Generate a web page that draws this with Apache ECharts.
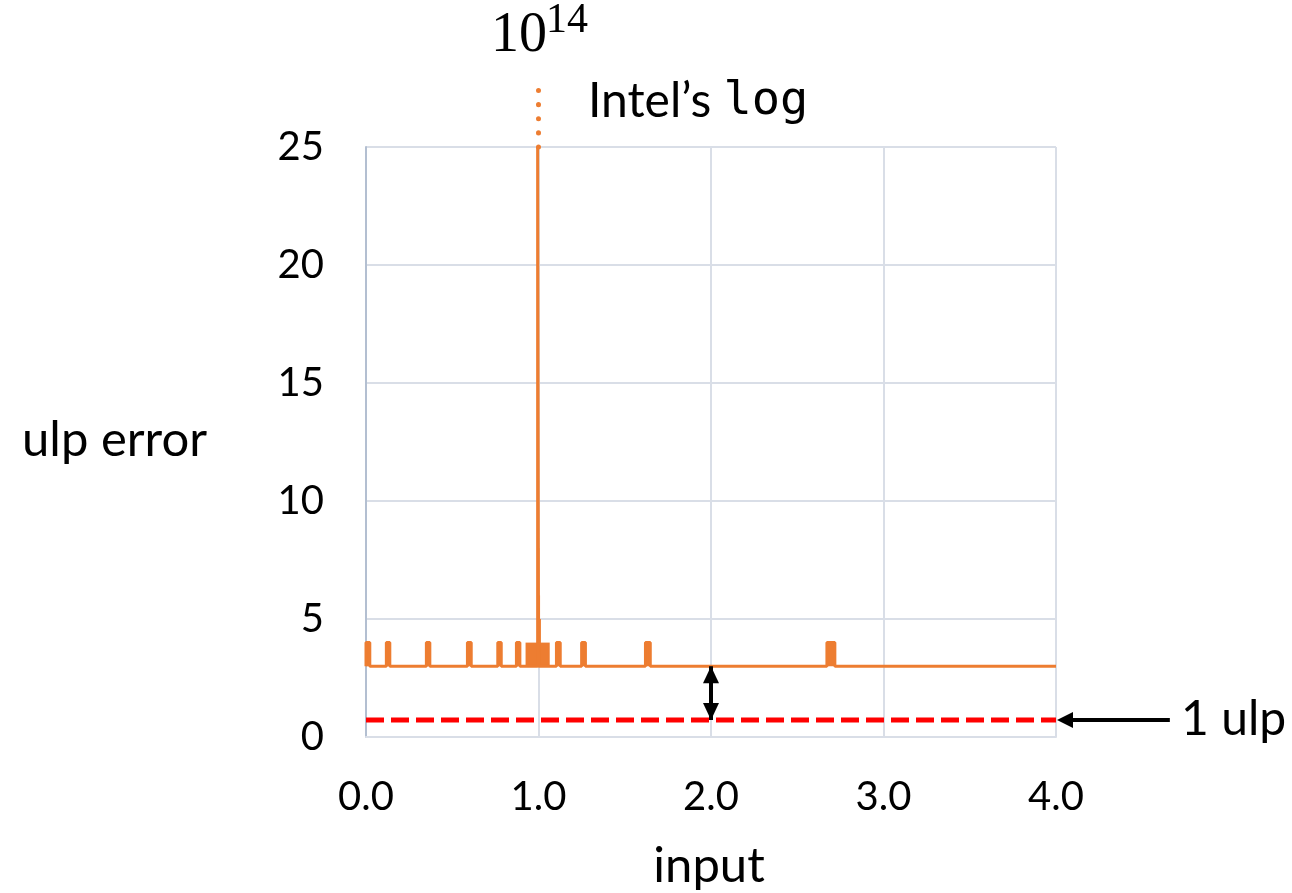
<!DOCTYPE html>
<html>
<head>
<meta charset="utf-8">
<style>
  html, body { margin: 0; padding: 0; background: #fff; }
  #chart { width: 1292px; height: 893px; }
</style>
<script src="https://cdn.jsdelivr.net/npm/echarts@6/dist/echarts.min.js"></script>
</head>
<body>
<div id="chart"></div>
<script>
// baseline error of Intel's log and the 1 ulp reference level
const baseUlp = 3;
const refUlp = 0.72;
const spikeOverflow = 27.9; // where the dotted "10^14" continuation ends
const pointerFrom = 4.66;   // tail of the "1 ulp" pointer arrow

// narrow error pulses above the baseline (input from, input to, ulp error)
const pulseLeft  = [0.000, 0.118, 0.350, 0.588, 0.764, 0.872, 0.995, 1.104, 1.250, 1.620, 2.672];
const pulseRight = [0.022, 0.138, 0.370, 0.610, 0.784, 0.892, 1.000, 1.126, 1.272, 1.648, 2.718];
const pulseTop   = [4, 4, 4, 4, 4, 4, 25, 4, 4, 4, 4];

// dense bursts around input 1.0, drawn as filled blocks
const denseLeft  = [0.925, 0.996, 0.997, 0.999, 1.000];
const denseRight = [1.065, 1.014, 1.009, 1.005, 1.003];
const denseTop   = [4, 5, 6, 8, 12];

const xMin = 0, xMax = 4, xStep = 1;
const yMin = 0, yMax = 25, yStep = 5;

const orange = '#ed7d31';
const textFont = 'Lato, "Open Sans", sans-serif';

let ulpLine = [[xMin, baseUlp]];
pulseLeft.forEach(function (l, i) {
  ulpLine.push([l, baseUlp], [l, pulseTop[i]], [pulseRight[i], pulseTop[i]], [pulseRight[i], baseUlp]);
});
ulpLine.push([xMax, baseUlp]);

let denseAreas = denseLeft.map(function (l, i) {
  return [{ xAxis: l, yAxis: baseUlp }, { xAxis: denseRight[i], yAxis: denseTop[i] }];
});

// arrow heads are triangles whose centre sits half a head inside the ends
const headInset = 0.36;
const headSize = [16, 17];

let myChart = echarts.init(document.getElementById('chart'));
myChart.setOption({
  animation: false,
  grid: { left: 366, right: 236, top: 147, bottom: 156 },
  xAxis: {
    type: 'value',
    min: xMin, max: xMax, interval: xStep,
    axisLine: { show: true, lineStyle: { color: '#d9dee7', width: 2 } },
    axisTick: { show: false },
    axisLabel: {
      margin: 40,
      color: '#000',
      fontSize: 40,
      fontFamily: textFont,
      formatter: function (v) { return v.toFixed(1); }
    },
    splitLine: { show: true, lineStyle: { color: '#d9dee7', width: 2 } }
  },
  yAxis: {
    type: 'value',
    min: yMin, max: yMax, interval: yStep,
    axisLine: { show: true, lineStyle: { color: '#b3bfd1', width: 2 } },
    axisTick: { show: false },
    axisLabel: {
      margin: 42,
      color: '#000',
      fontSize: 40,
      fontFamily: textFont
    },
    splitLine: { show: true, lineStyle: { color: '#d9dee7', width: 2 } }
  },
  series: [
    {
      name: 'Intel log',
      type: 'line',
      data: ulpLine,
      showSymbol: false,
      lineStyle: { color: orange, width: 3 },
      areaStyle: { color: orange, opacity: 1, origin: baseUlp },
      markArea: {
        silent: true,
        itemStyle: { color: orange, opacity: 1 },
        data: denseAreas
      },
      z: 3
    },
    {
      name: 'overflow',
      type: 'line',
      data: [[1.0, yMax], [1.0, spikeOverflow]],
      showSymbol: false,
      clip: false,
      lineStyle: { color: orange, width: 5, type: [0.1, 14], cap: 'round' },
      z: 3
    },
    {
      name: '1 ulp',
      type: 'line',
      data: [[xMin, refUlp], [xMax, refUlp]],
      showSymbol: false,
      clip: false,
      lineStyle: { color: '#ff0000', width: 5, type: [18, 7] },
      z: 4
    },
    {
      name: 'gap',
      type: 'line',
      data: [
        { value: [2.0, baseUlp], symbol: 'none' },
        { value: [2.0, baseUlp - headInset], symbol: 'triangle', symbolSize: headSize, symbolRotate: 0 },
        { value: [2.0, refUlp + headInset], symbol: 'triangle', symbolSize: headSize, symbolRotate: 180 },
        { value: [2.0, refUlp], symbol: 'none' }
      ],
      showSymbol: true,
      clip: false,
      itemStyle: { color: '#000' },
      lineStyle: { color: '#000', width: 4 },
      z: 5
    }
  ]
});

// the "1 ulp" pointer lies right of the plot, place it from the axis scale
let tip = myChart.convertToPixel({ gridIndex: 0 }, [xMax, refUlp]);
let tail = myChart.convertToPixel({ gridIndex: 0 }, [pointerFrom, refUlp]);

myChart.setOption({
  graphic: [
    { type: 'text', x: 22, y: 440, style: { text: 'ulp error', font: '49px ' + textFont, fill: '#000', verticalAlign: 'middle' } },
    { type: 'text', x: 709, y: 866, style: { text: 'input', font: '49px ' + textFont, fill: '#000', align: 'center', verticalAlign: 'middle' } },
    { type: 'text', x: 1181, y: 720, style: { text: '1 ulp', font: '48px ' + textFont, fill: '#000', verticalAlign: 'middle' } },
    {
      type: 'text', x: 588, y: 102,
      style: {
        text: '{a|Intel’s }{b|log}',
        verticalAlign: 'middle',
        rich: {
          a: { font: '48px ' + textFont, fill: '#000' },
          b: { font: '47px "DejaVu Sans Mono", monospace', fill: '#000' }
        }
      }
    },
    { type: 'text', x: 491, y: 36, style: { text: '10', font: '56px "Liberation Serif", serif', fill: '#000', verticalAlign: 'middle' } },
    { type: 'text', x: 546, y: 21, style: { text: '14', font: '42px "Liberation Serif", serif', fill: '#000', verticalAlign: 'middle' } },
    {
      type: 'line', z: 10,
      shape: { x1: tip[0] + 12, y1: tip[1], x2: tail[0], y2: tail[1] },
      style: { stroke: '#000', lineWidth: 4 }
    },
    {
      type: 'polygon', z: 10,
      shape: { points: [[tip[0] + 1, tip[1]], [tip[0] + 17, tip[1] - 8], [tip[0] + 17, tip[1] + 8]] },
      style: { fill: '#000' }
    }
  ]
});
window.addEventListener('resize', function () {
  myChart.resize();
});
</script>
</body>
</html>
